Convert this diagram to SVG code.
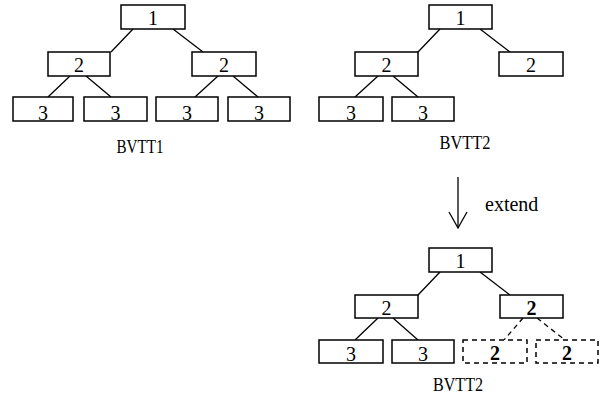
<svg xmlns="http://www.w3.org/2000/svg" width="607" height="396" viewBox="0 0 607 396">
  <style>
    .box { fill: #fff; stroke: #000; stroke-width: 1.5; }
    .dash { fill: #fff; stroke: #000; stroke-width: 1.5; stroke-dasharray: 5 4; }
    .edge { stroke: #000; stroke-width: 1.3; fill: none; }
    .edge-dash { stroke: #000; stroke-width: 1.3; fill: none; stroke-dasharray: 5 4; }
    .num { font-family: "Liberation Serif", "Times New Roman", serif; font-size: 20px; text-anchor: middle; fill: #000; }
    .bold { font-weight: bold; }
    .label { font-family: "Liberation Serif", "Times New Roman", serif; font-size: 19px; text-anchor: middle; fill: #000; }
    .note { font-family: "Liberation Serif", "Times New Roman", serif; font-size: 20px; fill: #000; }
  </style>
  <defs>
    <marker id="open-head" viewBox="0 0 20 20" refX="10" refY="18" markerWidth="20" markerHeight="20" markerUnits="userSpaceOnUse" orient="auto-start-reverse">
    </marker>
  </defs>

  <!-- connectors -->
  <g id="connectors">
    <!-- BVTT1 -->
    <line class="edge" x1="133" y1="29" x2="111" y2="52"/>
    <line class="edge" x1="173" y1="29" x2="203" y2="52"/>
    <line class="edge" x1="70" y1="76" x2="48" y2="97"/>
    <line class="edge" x1="86" y1="76" x2="111" y2="97"/>
    <line class="edge" x1="218" y1="76" x2="195" y2="97"/>
    <line class="edge" x1="233" y1="76" x2="258" y2="97"/>
    <!-- BVTT2 -->
    <line class="edge" x1="440" y1="29" x2="418" y2="52"/>
    <line class="edge" x1="480" y1="29" x2="510" y2="52"/>
    <line class="edge" x1="378" y1="76" x2="355" y2="97"/>
    <line class="edge" x1="393" y1="76" x2="418" y2="97"/>
    <!-- extend arrow -->
    <line class="edge" x1="458" y1="177" x2="458" y2="228"/>
    <polyline class="edge" points="449,212 458,228 467,212"/>
    <!-- extended BVTT2 -->
    <line class="edge" x1="440" y1="272" x2="418" y2="295"/>
    <line class="edge" x1="480" y1="272" x2="510" y2="295"/>
    <line class="edge" x1="378" y1="318" x2="355" y2="340"/>
    <line class="edge" x1="393" y1="318" x2="418" y2="340"/>
    <line class="edge-dash" x1="523" y1="318" x2="504" y2="340"/>
    <line class="edge-dash" x1="537" y1="318" x2="565" y2="340"/>
  </g>

  <!-- BVTT1 nodes -->
  <g id="t1-n1"><rect class="box" x="121" y="5" width="64" height="24"/><text class="num" x="153" y="25">1</text></g>
  <g id="t1-n2a"><rect class="box" x="48" y="52" width="62" height="24"/><text class="num" x="79" y="72">2</text></g>
  <g id="t1-n2b"><rect class="box" x="192" y="52" width="64" height="24"/><text class="num" x="224" y="72">2</text></g>
  <g id="t1-n3a"><rect class="box" x="13" y="97" width="60" height="24"/><text class="num" x="43" y="119.5">3</text></g>
  <g id="t1-n3b"><rect class="box" x="84" y="97" width="63" height="24"/><text class="num" x="115.5" y="119.5">3</text></g>
  <g id="t1-n3c"><rect class="box" x="156" y="97" width="62" height="24"/><text class="num" x="187" y="119.5">3</text></g>
  <g id="t1-n3d"><rect class="box" x="228" y="97" width="62" height="24"/><text class="num" x="259" y="119.5">3</text></g>
  <text class="label" x="140" y="153" textLength="47" lengthAdjust="spacingAndGlyphs">BVTT1</text>

  <!-- BVTT2 nodes -->
  <g id="t2-n1"><rect class="box" x="429" y="5" width="63" height="24"/><text class="num" x="460.5" y="25">1</text></g>
  <g id="t2-n2a"><rect class="box" x="355" y="52" width="63" height="24"/><text class="num" x="386.5" y="72">2</text></g>
  <g id="t2-n2b"><rect class="box" x="499" y="52" width="64" height="24"/><text class="num" x="531" y="72">2</text></g>
  <g id="t2-n3a"><rect class="box" x="319" y="97" width="64" height="24"/><text class="num" x="351" y="119.5">3</text></g>
  <g id="t2-n3b"><rect class="box" x="392" y="97" width="62" height="24"/><text class="num" x="423" y="119.5">3</text></g>
  <text class="label" x="465" y="149" textLength="51" lengthAdjust="spacingAndGlyphs">BVTT2</text>

  <text class="note" x="485" y="211">extend</text>

  <!-- extended BVTT2 nodes -->
  <g id="t3-n1"><rect class="box" x="429" y="248" width="63" height="24"/><text class="num" x="460.5" y="268">1</text></g>
  <g id="t3-n2a"><rect class="box" x="355" y="295" width="63" height="23"/><text class="num" x="386.5" y="315">2</text></g>
  <g id="t3-n2b"><rect class="box" x="500" y="295" width="63" height="23"/><text class="num bold" x="531.5" y="315">2</text></g>
  <g id="t3-n3a"><rect class="box" x="319" y="340" width="64" height="23"/><text class="num" x="351" y="361">3</text></g>
  <g id="t3-n3b"><rect class="box" x="392" y="340" width="62" height="23"/><text class="num" x="423" y="361">3</text></g>
  <g id="t3-n3c"><rect class="dash" x="463" y="340" width="64" height="23"/><text class="num bold" x="495" y="360">2</text></g>
  <g id="t3-n3d"><rect class="dash" x="536" y="340" width="62" height="23"/><text class="num bold" x="567" y="360">2</text></g>
  <text class="label" x="458" y="391" textLength="50" lengthAdjust="spacingAndGlyphs">BVTT2</text>
</svg>
